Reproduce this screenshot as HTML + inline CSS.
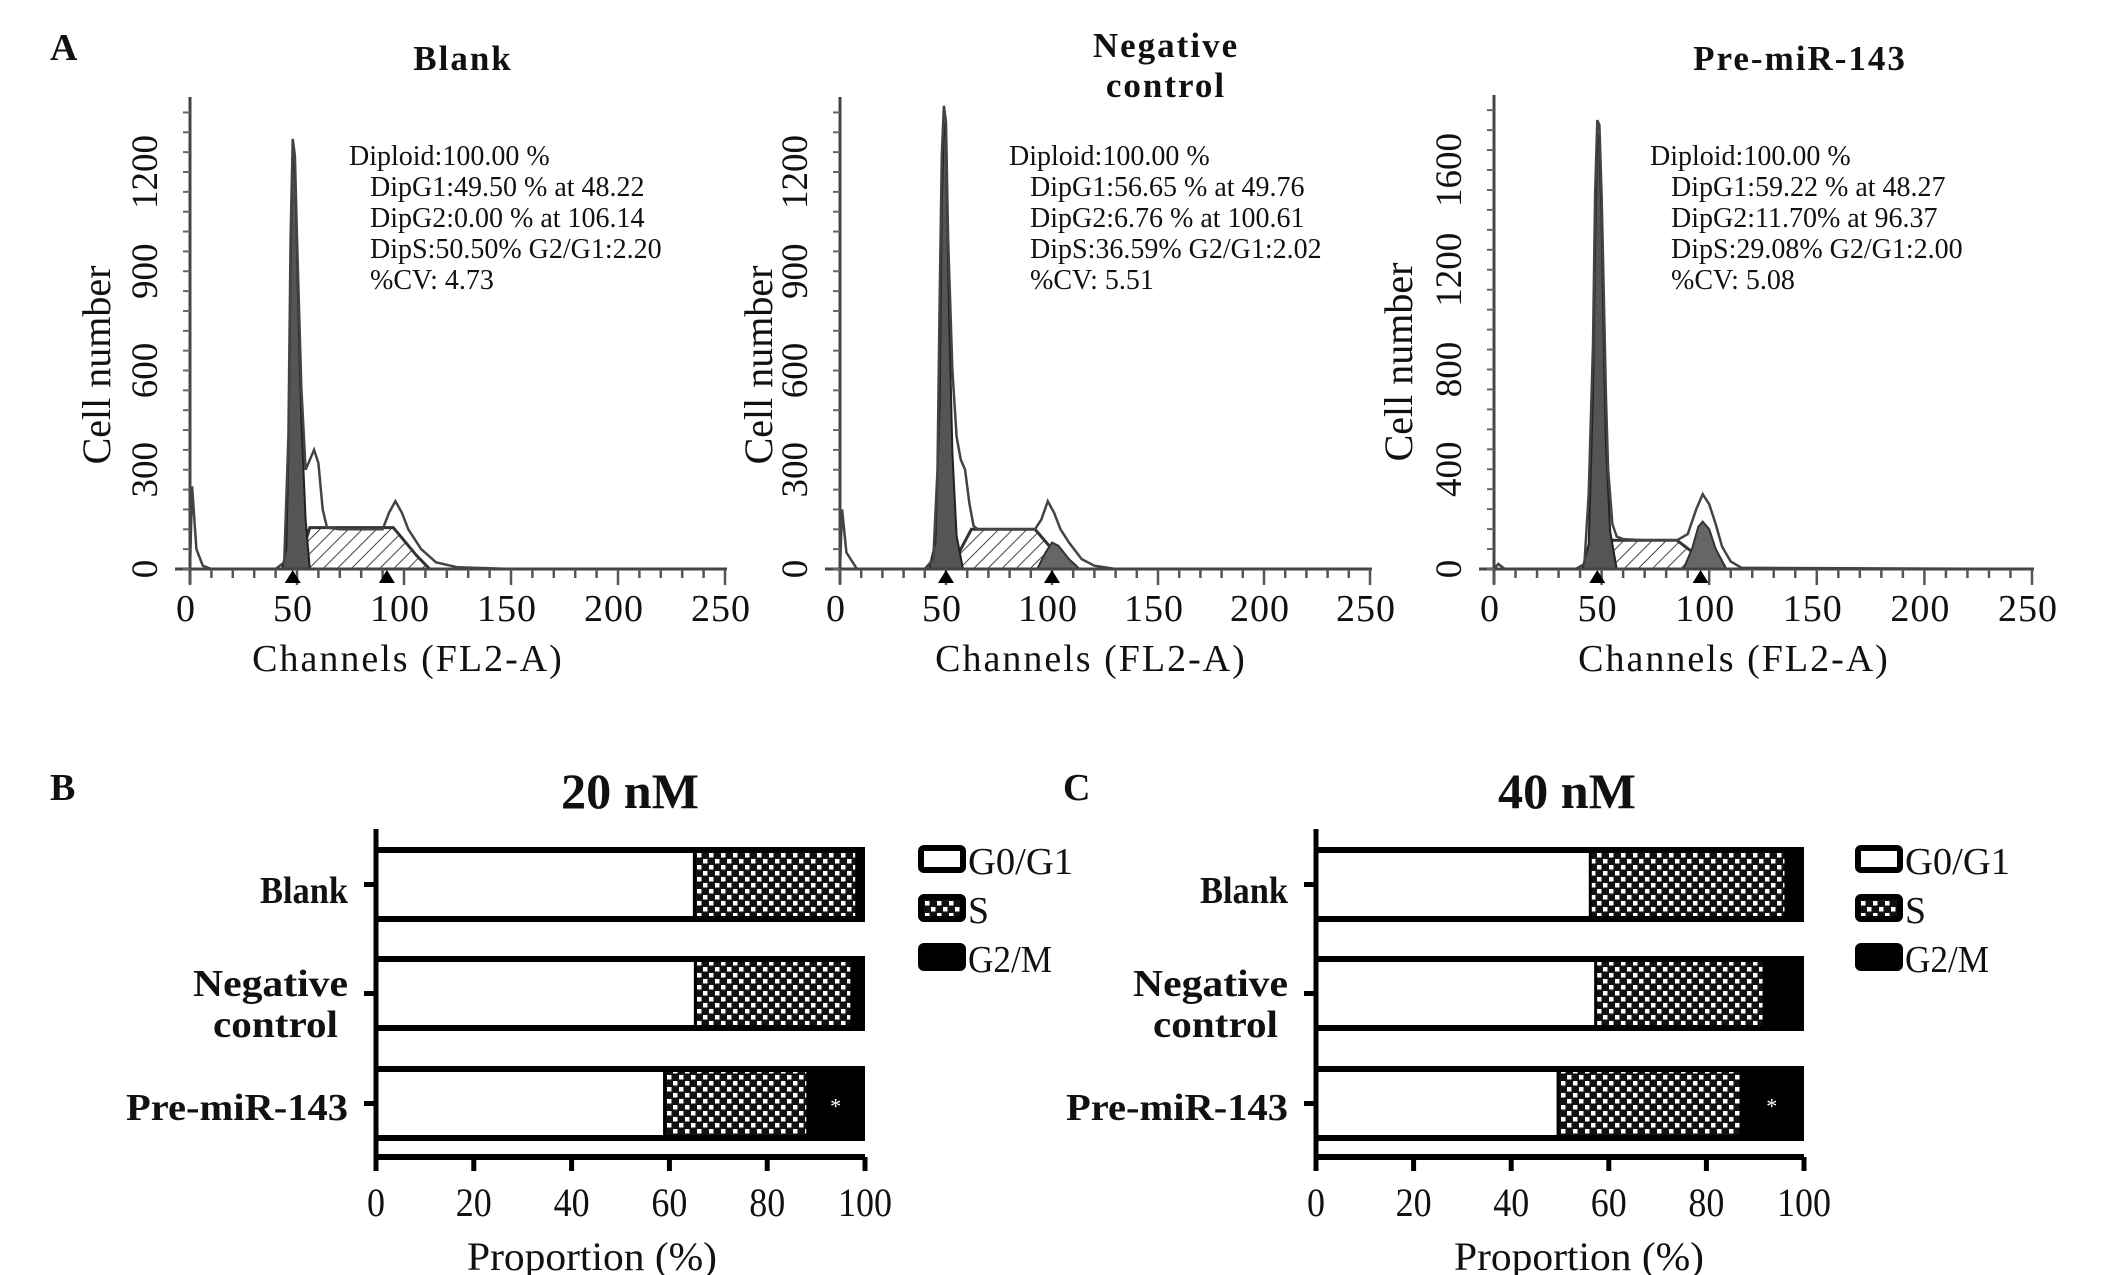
<!DOCTYPE html>
<html><head><meta charset="utf-8"><style>
html,body{margin:0;padding:0;background:#fff;}
svg{display:block;}
text{font-family:"Liberation Serif",serif;fill:#111;}
</style></head><body>
<svg id="fig" width="2126" height="1275" viewBox="0 0 2126 1275" xmlns="http://www.w3.org/2000/svg">
<defs>
<pattern id="hatch" width="10" height="10" patternUnits="userSpaceOnUse" patternTransform="rotate(45)">
<rect width="10" height="10" fill="#fff"/><line x1="0" y1="0" x2="0" y2="10" stroke="#444" stroke-width="2"/></pattern>
<pattern id="checker" width="12" height="12" patternUnits="userSpaceOnUse">
<rect width="12" height="12" fill="#111"/><rect x="1" y="1" width="4.5" height="4.5" fill="#fff"/><rect x="7" y="7" width="4.5" height="4.5" fill="#fff"/></pattern>
</defs>
<g id="hist"></g>
<g id="bars"></g>
<text x="50" y="60" font-size="38" font-weight="bold">A</text>
<text x="50" y="800" font-size="38" font-weight="bold">B</text>
<text x="1063" y="800" font-size="38" font-weight="bold">C</text>
</svg>
<script>
// ---------- Panel A data ----------
const blankEnvCh = [0,1,3,6,10,40,44,46,47,48,49,50,52,54,56,58,60,62,64,70,90,93,96,99,102,108,115,125,150,250];
const blankEnvCt = [0,250,60,10,0,0,20,400,1000,1300,1250,1000,550,300,330,360,320,180,125,120,120,170,205,170,120,60,20,5,0,0];
const blankG1Ch = [43,45,46,47,48,49,50,52,54,56];
const blankG1Ct = [0,60,350,900,1270,1200,950,450,150,0];
const blankSCh = [50,56,95,106,112];
const blankSCt = [0,125,125,40,0];
const blankG2Ch = [92,92];
const blankG2Ct = [0,0];
const blankMarks = [48,92];

const negEnvCh = [0,1,3,8,40,44,46,47,48,49,50,51,53,55,57,59,61,63,65,80,92,95,98,101,104,108,114,120,130,250];
const negEnvCt = [0,180,50,0,0,30,300,800,1250,1400,1350,1000,600,400,330,300,200,130,120,120,120,150,205,170,120,80,30,10,0,0];
const negG1Ch = [42,45,47,48,49,50,51,53,55,58];
const negG1Ct = [0,80,500,1100,1350,1300,900,350,100,0];
const negSCh = [52,62,92,100,108];
const negSCt = [0,120,120,60,0];
const negG2Ch = [93,97,100,103,108,113];
const negG2Ct = [0,50,80,70,30,0];
const negMarks = [50,100];

const preEnvCh = [0,2,5,38,42,44,46,47,48,49,50,51,52,53,55,57,60,70,85,90,94,97,100,103,106,110,115,250];
const preEnvCt = [0,20,0,0,20,300,900,1500,1800,1780,1500,1100,700,400,180,130,120,115,115,140,240,300,260,180,90,30,5,0];
const preG1Ch = [41,44,46,47,48,49,50,51,52,54,57];
const preG1Ct = [0,100,700,1300,1750,1700,1400,900,500,150,0];
const preSCh = [47,55,85,95,102];
const preSCt = [0,115,115,50,0];
const preG2Ch = [88,92,95,97,100,103,108];
const preG2Ct = [0,80,170,190,160,80,0];
const preMarks = [48,96];

const xTicks = [0,50,100,150,200,250];
const yTicks12 = [0,300,600,900,1200];
const yTicks16 = [0,400,800,1200,1600];

// ---------- Panel B/C data ----------
const categories = ["Blank","Negative control","Pre-miR-143"];
const g1_20 = [64.8,65,58.7];
const s_20 = [33.2,32,29.3];
const g2_20 = [2,3,12];
const g1_40 = [55.9,57,49.3];
const s_40 = [40.1,34.5,37.5];
const g2_40 = [4,8.5,13.2];
const pctTicks = [0,20,40,60,80,100];
const legendLabels = ["G0/G1","S","G2/M"];

const NS = "http://www.w3.org/2000/svg";
function mk(tag, attrs, parent){
  const e = document.createElementNS(NS, tag);
  for (const k in attrs) e.setAttribute(k, attrs[k]);
  parent.appendChild(e);
  return e;
}
function txt(parent, x, y, s, size, extra){
  const t = mk("text", Object.assign({x:x, y:y, "font-size":size}, extra||{}), parent);
  t.textContent = s;
  return t;
}

const histG = document.getElementById("hist");
function drawHist(cfg){
  const g = mk("g", {}, histG);
  
  
  const sx = c => cfg.x0 + (c/250)*(cfg.x1-cfg.x0);
  const sy = v => cfg.y0 - (v/cfg.ymax)*(cfg.y0-cfg.ytop);
  const path = (ch, ct) => ch.map((c,i)=>(i?"L":"M")+sx(c).toFixed(1)+","+sy(ct[i]).toFixed(1)).join(" ");
  const s = mk("path", {d:path(cfg.sCh,cfg.sCt)+" Z", fill:"url(#hatch)", stroke:"#333", "stroke-width":3}, g);
  
  
  const g1 = mk("path", {d:path(cfg.g1Ch,cfg.g1Ct)+" Z", fill:"#555", stroke:"#222", "stroke-width":2}, g);
  
  
  const g2 = mk("path", {d:path(cfg.g2Ch,cfg.g2Ct)+" Z", fill:"#666", stroke:"#333", "stroke-width":2}, g);
  
  
  const env = mk("path", {d:path(cfg.envCh,cfg.envCt), fill:"none", stroke:"#444", "stroke-width":2.5}, g);
  
  
  mk("line", {x1:cfg.x0-15, y1:cfg.y0, x2:cfg.x1+2, y2:cfg.y0, stroke:"#444", "stroke-width":3}, g);
  mk("line", {x1:cfg.x0, y1:cfg.ytop-75, x2:cfg.x0, y2:cfg.y0+15, stroke:"#444", "stroke-width":3}, g);
  for (let c=0;c<=250;c+=10){
    mk("line", {x1:sx(c), y1:cfg.y0, x2:sx(c), y2:cfg.y0+(c%50===0?16:9), stroke:"#555", "stroke-width":2.5}, g);
  }
  const step = cfg.ymax/20;
  for (let v=0; sy(v)>=cfg.ytop-70; v+=step){
    mk("line", {x1:cfg.x0-7, y1:sy(v), x2:cfg.x0, y2:sy(v), stroke:"#666", "stroke-width":2}, g);
  }
  xTicks.forEach(c=>{
    const t = txt(g, sx(c)-4, cfg.y0+52, String(c), 38, {"text-anchor":"middle", "letter-spacing":"1"});
    
    
  });
  cfg.yTicks.forEach(v=>{
    const yy = sy(v);
    const t = txt(g, 0, 0, String(v), 37, {"text-anchor":"middle", transform:`translate(${cfg.x0-33},${yy}) rotate(-90)`});
    
    
  });
  cfg.marks.forEach(c=>{
    const m = mk("path", {d:`M${sx(c)-8},${cfg.y0+14} L${sx(c)},${cfg.y0+1} L${sx(c)+8},${cfg.y0+14} Z`, fill:"#000"}, g);
    
    
  });
  const xl = txt(g, cfg.xlx, cfg.y0+102, "Channels (FL2-A)", 38, {"text-anchor":"middle", "letter-spacing":"2"});
  
  
  const yl = txt(g, 0, 0, "Cell number", 40, {"text-anchor":"middle", transform:`translate(${cfg.ylx},${cfg.yly}) rotate(-90)`});
  
  
  cfg.title.forEach((line,i)=>{
    const t = txt(g, cfg.tx, cfg.ty+i*40, line, 35, {"text-anchor":"middle", "font-weight":"bold", "letter-spacing":"2"});
    
    
  });
  cfg.notes.forEach((line,i)=>{
    const t = txt(g, cfg.nx+(i?21:0), 165+i*31, line, 28, {});
    
    
  });
}

drawHist({name:"histogram-blank", x0:190, x1:725, y0:569, ytop:172, ymax:1200, yTicks:yTicks12,
  envCh:blankEnvCh, envCt:blankEnvCt, g1Ch:blankG1Ch, g1Ct:blankG1Ct, sCh:blankSCh, sCt:blankSCt, g2Ch:blankG2Ch, g2Ct:blankG2Ct, marks:blankMarks,
  ylx:110, yly:365, title:["Blank"], tx:463, ty:70, nx:349, xlx:408,
  notes:["Diploid:100.00 %","DipG1:49.50 % at 48.22","DipG2:0.00 % at 106.14","DipS:50.50% G2/G1:2.20","%CV: 4.73"]});
drawHist({name:"histogram-negative-control", x0:840, x1:1370, y0:569, ytop:172, ymax:1200, yTicks:yTicks12,
  envCh:negEnvCh, envCt:negEnvCt, g1Ch:negG1Ch, g1Ct:negG1Ct, sCh:negSCh, sCt:negSCt, g2Ch:negG2Ch, g2Ct:negG2Ct, marks:negMarks,
  ylx:772, yly:365, title:["Negative","control"], tx:1166, ty:57, nx:1009, xlx:1091,
  notes:["Diploid:100.00 %","DipG1:56.65 % at 49.76","DipG2:6.76 % at 100.61","DipS:36.59% G2/G1:2.02","%CV: 5.51"]});
drawHist({name:"histogram-pre-mir-143", x0:1494, x1:2032, y0:569, ytop:170, ymax:1600, yTicks:yTicks16,
  envCh:preEnvCh, envCt:preEnvCt, g1Ch:preG1Ch, g1Ct:preG1Ct, sCh:preSCh, sCt:preSCt, g2Ch:preG2Ch, g2Ct:preG2Ct, marks:preMarks,
  ylx:1412, yly:362, title:["Pre-miR-143"], tx:1800, ty:70, nx:1650, xlx:1734,
  notes:["Diploid:100.00 %","DipG1:59.22 % at 48.27","DipG2:11.70% at 96.37","DipS:29.08% G2/G1:2.00","%CV: 5.08"]});

const barsG = document.getElementById("bars");
function drawBars(cfg){
  const g = mk("g", {}, barsG);
  
  
  const sx = p => cfg.x0 + (p/100)*(cfg.x1-cfg.x0);
  const rowTop = [847,956,1066], rowH = 75;
  categories.forEach((cat,i)=>{
    const y = rowTop[i];
    const a = cfg.g1[i], b = cfg.s[i], c = cfg.g2[i];
    const bg = mk("rect", {x:sx(0), y:y, width:sx(100)-sx(0), height:rowH, fill:"#000"}, g);
    
    
    const r1 = mk("rect", {x:sx(0)+2, y:y+6, width:sx(a)-sx(0)-2, height:rowH-12, fill:"#fff"}, g);
    
    
    const r2 = mk("rect", {x:sx(a)+3, y:y+6, width:sx(a+b)-sx(a)-3, height:rowH-12, fill:"url(#checker)"}, g);
    
    
    mk("line", {x1:sx(0)-12, y1:y+rowH/2, x2:sx(0), y2:y+rowH/2, stroke:"#000", "stroke-width":5}, g);
    if (i===2){
      const st = txt(g, sx(a+b+c/2), y+rowH/2+10, "*", 22, {"text-anchor":"middle", style:"fill:#fff"});
      
      
    }
  });
  const lab = [[["Blank"],[903]],[["Negative","control"],[996,1037]],[["Pre-miR-143"],[1120]]];
  lab.forEach((l)=>{
    l[0].forEach((s,j)=>{
      const w = s==="Blank"?88:(s==="Negative"?155:(s==="control"?125:222));
      const t = txt(g, cfg.x0-28-(s==="control"?10:0), l[1][j], s, 38, {"text-anchor":"end", "font-weight":"bold", textLength:w, lengthAdjust:"spacingAndGlyphs"});
      
      
    });
  });
  mk("line", {x1:cfg.x0, y1:829, x2:cfg.x0, y2:1170, stroke:"#000", "stroke-width":5}, g);
  mk("line", {x1:cfg.x0, y1:1157, x2:cfg.x1, y2:1157, stroke:"#000", "stroke-width":6}, g);
  pctTicks.forEach(p=>{
    mk("line", {x1:sx(p), y1:1157, x2:sx(p), y2:1171, stroke:"#000", "stroke-width":5}, g);
    const t = txt(g, sx(p), 1216, String(p), 40, {"text-anchor":"middle", textLength:String(p).length*18, lengthAdjust:"spacingAndGlyphs"});
    
    
  });
  const xt = txt(g, cfg.xtx, 1270, "Proportion (%)", 40, {"text-anchor":"middle", textLength:250, lengthAdjust:"spacingAndGlyphs"});
  
  
  const tt = txt(g, cfg.tx, 808, cfg.title, 50, {"text-anchor":"middle", "font-weight":"bold", textLength:138, lengthAdjust:"spacingAndGlyphs"});
  
  
  const fills = ["#fff","url(#checker)","#000"];
  legendLabels.forEach((s,i)=>{
    const y = 845 + i*49;
    const r = mk("rect", {x:cfg.lx+3, y:y+3, width:42, height:22, fill:fills[i], stroke:"#000", "stroke-width":6, rx:3}, g);
    
    
    const t = txt(g, cfg.lx+50, y+29, s, 38, {textLength:s.length*21, lengthAdjust:"spacingAndGlyphs"});
    
    
  });
}
drawBars({name:"bar-chart-20nm", x0:376, x1:865, g1:g1_20, s:s_20, g2:g2_20, title:"20 nM", tx:630, lx:918, xtx:592});
drawBars({name:"bar-chart-40nm", x0:1316, x1:1804, g1:g1_40, s:s_40, g2:g2_40, title:"40 nM", tx:1567, lx:1855, xtx:1579});
</script>
</body></html>
